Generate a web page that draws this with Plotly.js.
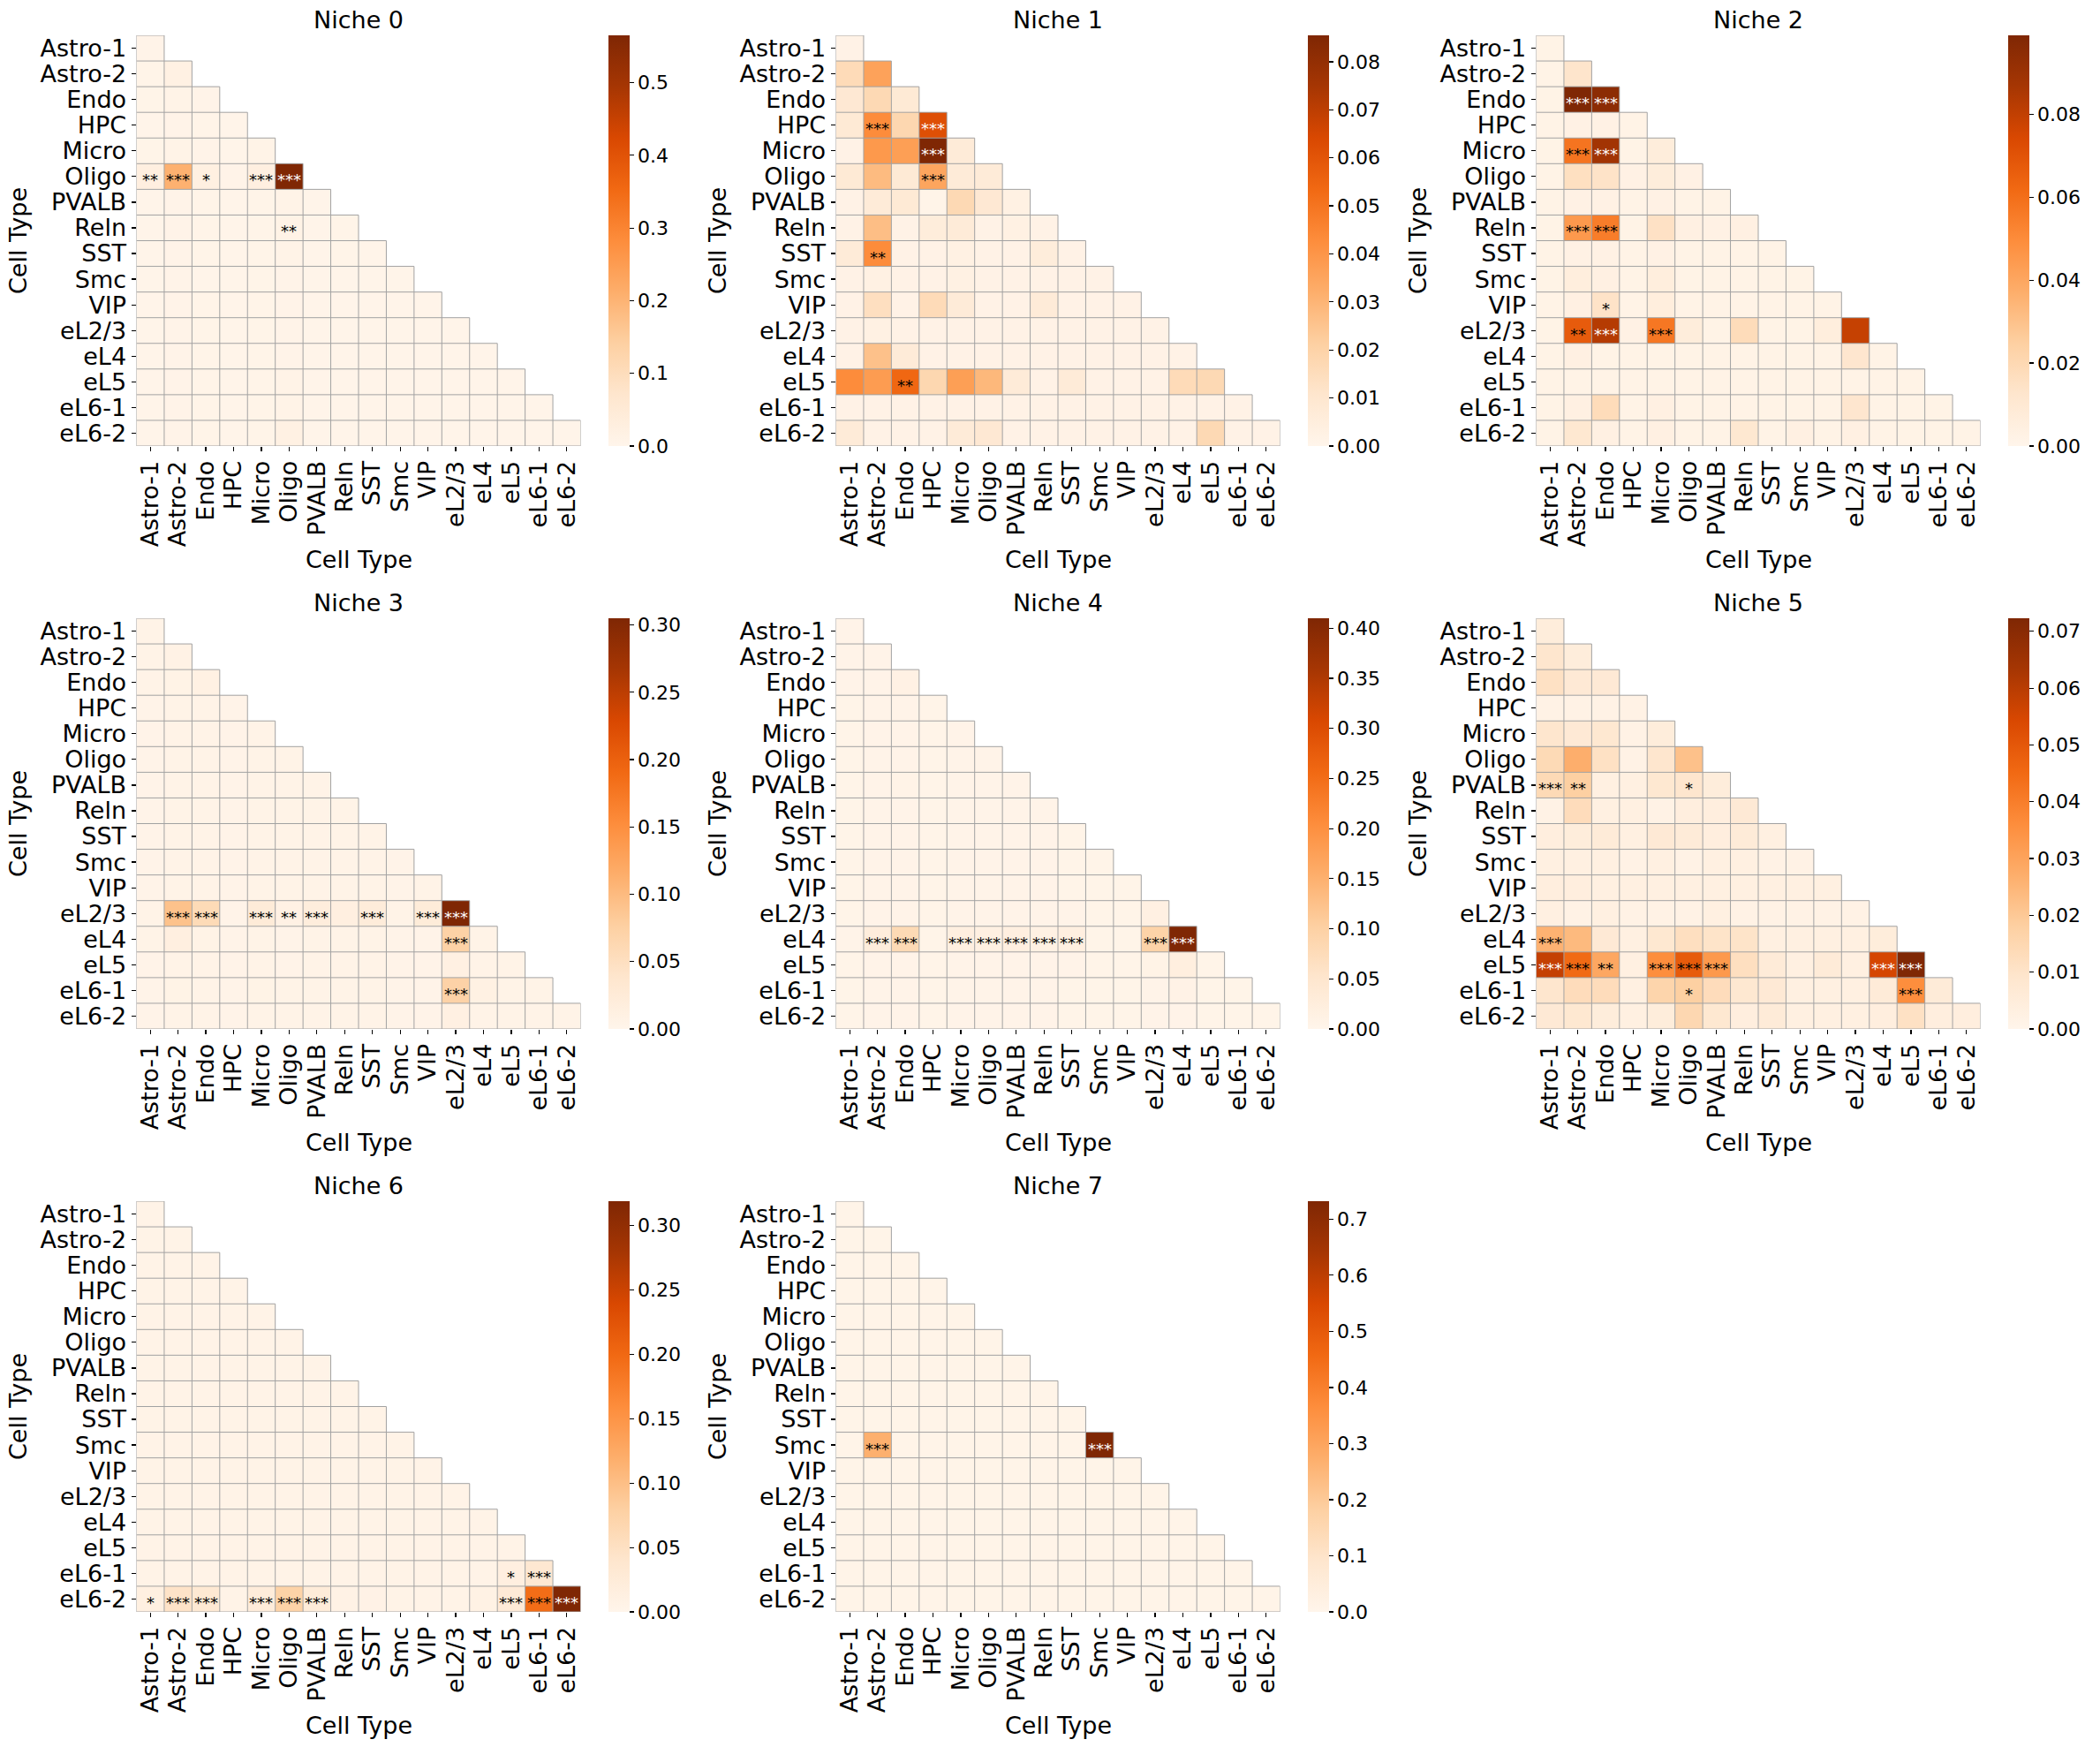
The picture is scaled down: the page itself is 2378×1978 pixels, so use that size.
<!DOCTYPE html>
<html>
<head>
<meta charset="utf-8">
<script src="https://cdn.plot.ly/plotly-3.0.1.min.js"></script>
<style>html,body{margin:0;padding:0;background:#fff;}</style>
</head>
<body>
<div id="chart" style="width:2378px;height:1978px;"></div>
<script>
// Cell types shared by every niche (rows and columns of each triangle)
const cellTypes = ["Astro-1", "Astro-2", "Endo", "HPC", "Micro", "Oligo", "PVALB", "Reln",
  "SST", "Smc", "VIP", "eL2/3", "eL4", "eL5", "eL6-1", "eL6-2"];

// Lower-triangle interaction scores, row i holds columns 0..i
const niche0 = [
  [0.008],
  [0.007, 0.020],
  [0.007, 0.009, 0.008],
  [0.006, 0.008, 0.007, 0.006],
  [0.007, 0.009, 0.008, 0.006, 0.009],
  [0.028, 0.205, 0.024, 0.008, 0.027, 0.565],
  [0.006, 0.008, 0.007, 0.006, 0.007, 0.009, 0.006],
  [0.006, 0.008, 0.007, 0.006, 0.007, 0.011, 0.006, 0.007],
  [0.006, 0.008, 0.007, 0.006, 0.007, 0.009, 0.006, 0.007, 0.006],
  [0.006, 0.008, 0.006, 0.006, 0.007, 0.008, 0.006, 0.006, 0.006, 0.006],
  [0.006, 0.008, 0.007, 0.006, 0.007, 0.008, 0.006, 0.006, 0.006, 0.006, 0.006],
  [0.006, 0.008, 0.007, 0.006, 0.007, 0.008, 0.006, 0.006, 0.006, 0.006, 0.006, 0.006],
  [0.006, 0.008, 0.007, 0.006, 0.007, 0.008, 0.006, 0.006, 0.006, 0.006, 0.006, 0.006, 0.006],
  [0.006, 0.008, 0.007, 0.006, 0.007, 0.009, 0.006, 0.006, 0.006, 0.006, 0.006, 0.006, 0.006, 0.006],
  [0.006, 0.008, 0.007, 0.006, 0.007, 0.009, 0.006, 0.006, 0.006, 0.006, 0.006, 0.006, 0.006, 0.006, 0.006],
  [0.006, 0.008, 0.007, 0.006, 0.007, 0.020, 0.006, 0.006, 0.006, 0.006, 0.006, 0.006, 0.006, 0.006, 0.006, 0.006]
];

const niche1 = [
  [0.002],
  [0.016, 0.036],
  [0.009, 0.017, 0.008],
  [0.008, 0.043, 0.018, 0.062],
  [0.002, 0.039, 0.037, 0.0855, 0.007],
  [0.008, 0.028, 0.008, 0.035, 0.007, 0.007],
  [0.002, 0.007, 0.008, 0.001, 0.017, 0.009, 0.003],
  [0.002, 0.027, 0.002, 0.006, 0.007, 0.002, 0.003, 0.002],
  [0.007, 0.043, 0.002, 0.002, 0.003, 0.002, 0.002, 0.006, 0.002],
  [0.002, 0.003, 0.002, 0.002, 0.003, 0.002, 0.002, 0.002, 0.002, 0.002],
  [0.002, 0.014, 0.002, 0.016, 0.007, 0.002, 0.002, 0.007, 0.002, 0.002, 0.002],
  [0.002, 0.003, 0.002, 0.002, 0.002, 0.002, 0.002, 0.002, 0.002, 0.002, 0.002, 0.002],
  [0.002, 0.026, 0.007, 0.002, 0.002, 0.002, 0.002, 0.002, 0.002, 0.002, 0.002, 0.002, 0.002],
  [0.043, 0.038, 0.054, 0.018, 0.037, 0.029, 0.007, 0.002, 0.007, 0.002, 0.002, 0.002, 0.016, 0.017],
  [0.002, 0.002, 0.002, 0.002, 0.002, 0.002, 0.002, 0.002, 0.002, 0.002, 0.002, 0.002, 0.002, 0.002, 0.002],
  [0.007, 0.002, 0.002, 0.002, 0.007, 0.009, 0.002, 0.002, 0.002, 0.002, 0.002, 0.002, 0.002, 0.017, 0.002, 0.002]
];

const niche2 = [
  [0.002],
  [0.002, 0.013],
  [0.002, 0.099, 0.095],
  [0.002, 0.003, 0.003, 0.002],
  [0.002, 0.058, 0.088, 0.002, 0.007],
  [0.002, 0.016, 0.014, 0.003, 0.007, 0.003],
  [0.002, 0.003, 0.003, 0.002, 0.003, 0.002, 0.002],
  [0.002, 0.045, 0.055, 0.002, 0.015, 0.004, 0.003, 0.004],
  [0.002, 0.003, 0.003, 0.002, 0.003, 0.002, 0.002, 0.002, 0.002],
  [0.002, 0.006, 0.004, 0.002, 0.006, 0.002, 0.002, 0.002, 0.002, 0.002],
  [0.002, 0.004, 0.014, 0.002, 0.006, 0.002, 0.002, 0.002, 0.002, 0.002, 0.002],
  [0.002, 0.067, 0.083, 0.003, 0.057, 0.007, 0.002, 0.018, 0.002, 0.002, 0.006, 0.079],
  [0.002, 0.004, 0.002, 0.002, 0.002, 0.002, 0.002, 0.002, 0.002, 0.002, 0.002, 0.012, 0.002],
  [0.002, 0.002, 0.002, 0.002, 0.002, 0.002, 0.002, 0.002, 0.002, 0.002, 0.002, 0.002, 0.002, 0.002],
  [0.002, 0.004, 0.018, 0.002, 0.004, 0.002, 0.002, 0.002, 0.002, 0.002, 0.002, 0.012, 0.002, 0.002, 0.002],
  [0.002, 0.011, 0.004, 0.002, 0.004, 0.002, 0.002, 0.011, 0.002, 0.004, 0.002, 0.004, 0.002, 0.002, 0.002, 0.002]
];

const niche3 = [
  [0.005],
  [0.005, 0.008],
  [0.005, 0.006, 0.010],
  [0.004, 0.005, 0.005, 0.004],
  [0.004, 0.005, 0.005, 0.004, 0.005],
  [0.004, 0.005, 0.005, 0.004, 0.005, 0.005],
  [0.004, 0.005, 0.005, 0.004, 0.005, 0.005, 0.005],
  [0.004, 0.005, 0.005, 0.004, 0.005, 0.005, 0.005, 0.005],
  [0.004, 0.005, 0.005, 0.004, 0.005, 0.005, 0.005, 0.005, 0.005],
  [0.004, 0.005, 0.005, 0.004, 0.005, 0.005, 0.005, 0.005, 0.005, 0.004],
  [0.004, 0.005, 0.005, 0.004, 0.005, 0.005, 0.005, 0.005, 0.005, 0.004, 0.005],
  [0.005, 0.092, 0.058, 0.004, 0.025, 0.009, 0.020, 0.014, 0.022, 0.005, 0.024, 0.305],
  [0.005, 0.015, 0.006, 0.004, 0.005, 0.004, 0.005, 0.005, 0.005, 0.004, 0.004, 0.073, 0.005],
  [0.004, 0.005, 0.005, 0.004, 0.005, 0.004, 0.005, 0.005, 0.005, 0.004, 0.004, 0.012, 0.005, 0.005],
  [0.004, 0.006, 0.005, 0.004, 0.006, 0.005, 0.005, 0.005, 0.005, 0.004, 0.004, 0.072, 0.010, 0.005, 0.005],
  [0.004, 0.005, 0.005, 0.004, 0.005, 0.005, 0.005, 0.005, 0.005, 0.004, 0.004, 0.012, 0.005, 0.005, 0.005, 0.005]
];

const niche4 = [
  [0.006],
  [0.006, 0.006],
  [0.006, 0.006, 0.012],
  [0.005, 0.006, 0.006, 0.005],
  [0.005, 0.006, 0.006, 0.005, 0.006],
  [0.005, 0.006, 0.006, 0.005, 0.006, 0.006],
  [0.005, 0.006, 0.007, 0.005, 0.006, 0.006, 0.006],
  [0.005, 0.006, 0.006, 0.005, 0.006, 0.006, 0.006, 0.006],
  [0.005, 0.006, 0.006, 0.005, 0.006, 0.006, 0.006, 0.006, 0.005],
  [0.005, 0.006, 0.006, 0.005, 0.006, 0.006, 0.006, 0.006, 0.005, 0.005],
  [0.005, 0.006, 0.006, 0.005, 0.006, 0.006, 0.006, 0.006, 0.005, 0.005, 0.005],
  [0.005, 0.006, 0.006, 0.005, 0.006, 0.006, 0.006, 0.006, 0.006, 0.005, 0.005, 0.016],
  [0.006, 0.026, 0.080, 0.005, 0.020, 0.016, 0.020, 0.014, 0.020, 0.005, 0.005, 0.095, 0.410],
  [0.005, 0.006, 0.006, 0.005, 0.006, 0.006, 0.006, 0.006, 0.006, 0.005, 0.005, 0.008, 0.022, 0.005],
  [0.005, 0.006, 0.006, 0.005, 0.006, 0.006, 0.006, 0.006, 0.005, 0.005, 0.005, 0.006, 0.009, 0.005, 0.005],
  [0.005, 0.006, 0.006, 0.005, 0.006, 0.006, 0.006, 0.006, 0.005, 0.005, 0.005, 0.006, 0.006, 0.005, 0.005, 0.005]
];

const niche5 = [
  [0.005],
  [0.009, 0.005],
  [0.011, 0.007, 0.007],
  [0.002, 0.002, 0.002, 0.002],
  [0.009, 0.007, 0.008, 0.002, 0.005],
  [0.014, 0.027, 0.011, 0.002, 0.009, 0.022],
  [0.014, 0.018, 0.003, 0.003, 0.008, 0.009, 0.005],
  [0.002, 0.013, 0.003, 0.003, 0.002, 0.004, 0.004, 0.007],
  [0.004, 0.005, 0.006, 0.003, 0.007, 0.006, 0.004, 0.006, 0.003],
  [0.003, 0.003, 0.003, 0.002, 0.003, 0.002, 0.003, 0.003, 0.002, 0.002],
  [0.004, 0.004, 0.003, 0.003, 0.003, 0.003, 0.003, 0.003, 0.003, 0.003, 0.003],
  [0.003, 0.002, 0.003, 0.002, 0.002, 0.002, 0.003, 0.002, 0.002, 0.002, 0.002, 0.002],
  [0.026, 0.024, 0.007, 0.003, 0.008, 0.012, 0.010, 0.010, 0.003, 0.003, 0.003, 0.003, 0.005],
  [0.058, 0.045, 0.029, 0.003, 0.036, 0.049, 0.033, 0.012, 0.006, 0.003, 0.006, 0.003, 0.055, 0.0723],
  [0.009, 0.013, 0.013, 0.003, 0.016, 0.018, 0.013, 0.008, 0.007, 0.003, 0.003, 0.003, 0.006, 0.036, 0.006],
  [0.007, 0.008, 0.005, 0.003, 0.005, 0.015, 0.008, 0.004, 0.006, 0.003, 0.003, 0.003, 0.004, 0.011, 0.004, 0.004]
];

const niche6 = [
  [0.005],
  [0.005, 0.005],
  [0.005, 0.005, 0.005],
  [0.005, 0.005, 0.005, 0.005],
  [0.005, 0.005, 0.005, 0.005, 0.005],
  [0.005, 0.005, 0.005, 0.005, 0.005, 0.005],
  [0.005, 0.005, 0.005, 0.005, 0.005, 0.005, 0.005],
  [0.005, 0.005, 0.005, 0.005, 0.005, 0.005, 0.005, 0.005],
  [0.005, 0.005, 0.005, 0.005, 0.005, 0.005, 0.005, 0.005, 0.005],
  [0.005, 0.005, 0.005, 0.005, 0.005, 0.005, 0.005, 0.005, 0.005, 0.005],
  [0.005, 0.005, 0.005, 0.005, 0.005, 0.005, 0.005, 0.005, 0.005, 0.005, 0.005],
  [0.005, 0.005, 0.005, 0.005, 0.005, 0.005, 0.005, 0.005, 0.005, 0.005, 0.005, 0.005],
  [0.005, 0.005, 0.005, 0.005, 0.005, 0.005, 0.005, 0.005, 0.005, 0.005, 0.005, 0.005, 0.005],
  [0.005, 0.005, 0.005, 0.005, 0.005, 0.005, 0.005, 0.005, 0.005, 0.005, 0.005, 0.005, 0.005, 0.005],
  [0.005, 0.006, 0.006, 0.005, 0.006, 0.006, 0.006, 0.005, 0.005, 0.005, 0.005, 0.005, 0.005, 0.015, 0.035],
  [0.014, 0.045, 0.033, 0.006, 0.024, 0.075, 0.025, 0.008, 0.007, 0.006, 0.006, 0.006, 0.009, 0.028, 0.195, 0.319]
];

const niche7 = [
  [0.008],
  [0.008, 0.008],
  [0.008, 0.008, 0.008],
  [0.008, 0.008, 0.008, 0.008],
  [0.008, 0.008, 0.008, 0.008, 0.008],
  [0.008, 0.008, 0.008, 0.008, 0.008, 0.008],
  [0.008, 0.008, 0.008, 0.008, 0.008, 0.008, 0.008],
  [0.008, 0.008, 0.008, 0.008, 0.008, 0.008, 0.008, 0.008],
  [0.008, 0.008, 0.008, 0.008, 0.008, 0.008, 0.008, 0.008, 0.008],
  [0.008, 0.270, 0.008, 0.008, 0.008, 0.008, 0.008, 0.008, 0.008, 0.732],
  [0.008, 0.008, 0.008, 0.008, 0.008, 0.008, 0.008, 0.008, 0.008, 0.008, 0.008],
  [0.008, 0.008, 0.008, 0.008, 0.008, 0.008, 0.008, 0.008, 0.008, 0.008, 0.008, 0.008],
  [0.008, 0.008, 0.008, 0.008, 0.008, 0.008, 0.008, 0.008, 0.008, 0.008, 0.008, 0.008, 0.008],
  [0.008, 0.008, 0.008, 0.008, 0.008, 0.008, 0.008, 0.008, 0.008, 0.008, 0.008, 0.008, 0.008, 0.008],
  [0.008, 0.008, 0.008, 0.008, 0.008, 0.008, 0.008, 0.008, 0.008, 0.008, 0.008, 0.008, 0.008, 0.008, 0.008],
  [0.008, 0.008, 0.008, 0.008, 0.008, 0.008, 0.008, 0.008, 0.008, 0.008, 0.008, 0.008, 0.008, 0.008, 0.008, 0.008]
];

// Significance marks: [row, column, label]
const niche0Stars = [[5, 0, "**"], [5, 1, "***"], [5, 2, "*"], [5, 4, "***"], [5, 5, "***"], [7, 5, "**"]];
const niche1Stars = [[3, 1, "***"], [3, 3, "***"], [4, 3, "***"], [5, 3, "***"], [8, 1, "**"], [13, 2, "**"]];
const niche2Stars = [[2, 1, "***"], [2, 2, "***"], [4, 1, "***"], [4, 2, "***"], [7, 1, "***"], [7, 2, "***"],
  [10, 2, "*"], [11, 1, "**"], [11, 2, "***"], [11, 4, "***"]];
const niche3Stars = [[11, 1, "***"], [11, 2, "***"], [11, 4, "***"], [11, 5, "**"], [11, 6, "***"], [11, 8, "***"],
  [11, 10, "***"], [11, 11, "***"], [12, 11, "***"], [14, 11, "***"]];
const niche4Stars = [[12, 1, "***"], [12, 2, "***"], [12, 4, "***"], [12, 5, "***"], [12, 6, "***"], [12, 7, "***"],
  [12, 8, "***"], [12, 11, "***"], [12, 12, "***"]];
const niche5Stars = [[6, 0, "***"], [6, 1, "**"], [6, 5, "*"], [12, 0, "***"], [13, 0, "***"], [13, 1, "***"],
  [13, 2, "**"], [13, 4, "***"], [13, 5, "***"], [13, 6, "***"], [13, 12, "***"], [13, 13, "***"],
  [14, 5, "*"], [14, 13, "***"]];
const niche6Stars = [[14, 13, "*"], [14, 14, "***"], [15, 0, "*"], [15, 1, "***"], [15, 2, "***"], [15, 4, "***"],
  [15, 5, "***"], [15, 6, "***"], [15, 13, "***"], [15, 14, "***"], [15, 15, "***"]];
const niche7Stars = [[9, 1, "***"], [9, 9, "***"]];

// Colour-bar tick spacing and label format for each niche
const cbStep = [0.1, 0.01, 0.02, 0.05, 0.05, 0.01, 0.05, 0.1];
const cbFormat = [".1f", ".2f", ".2f", ".2f", ".2f", ".2f", ".2f", ".1f"];

const niches = [niche0, niche1, niche2, niche3, niche4, niche5, niche6, niche7];
const nicheStars = [niche0Stars, niche1Stars, niche2Stars, niche3Stars, niche4Stars, niche5Stars, niche6Stars, niche7Stars];

// ---- figure geometry (pixels) ----
const W = 2378, H = 1978;
const colLeft = [154.5, 946.5, 1739.5];
const rowTop = [40, 700, 1360];
const panelW = 503, panelH = 465;
const cbGap = 31, cbThick = 24;
const FONT = "DejaVu Sans, sans-serif";

const oranges = [
  [0, "#fff5eb"], [0.125, "#fee6ce"], [0.25, "#fdd0a2"], [0.375, "#fdae6b"], [0.5, "#fd8d3c"],
  [0.625, "#f16913"], [0.75, "#d94801"], [0.875, "#a63603"], [1, "#7f2704"]
];

const n = cellTypes.length;
const idx = cellTypes.map((_, i) => i);

// Outline of every cell of the lower triangle, in axis units
function triangleGrid() {
  const xs = [], ys = [];
  for (let k = 0; k <= n; k++) {
    xs.push(-0.5, Math.min(k, n - 1) + 0.5, null);
    ys.push(k - 0.5, k - 0.5, null);
  }
  for (let j = 0; j <= n; j++) {
    xs.push(j - 0.5, j - 0.5, null);
    ys.push(Math.max(j - 1, 0) - 0.5, n - 0.5, null);
  }
  return { xs, ys };
}
const grid = triangleGrid();

const px = v => v / W;
const py = v => 1 - v / H;

const traces = [];
const annotations = [];
const layout = {
  width: W, height: H,
  margin: { l: 0, r: 0, t: 0, b: 0, pad: 0 },
  paper_bgcolor: "#ffffff", plot_bgcolor: "rgba(0,0,0,0)",
  font: { family: FONT, color: "#000000" },
  showlegend: false,
  annotations: annotations
};

niches.forEach((rows, k) => {
  const suffix = k === 0 ? "" : String(k + 1);
  const c = k % 3, r = Math.floor(k / 3);
  const left = colLeft[c], top = rowTop[r];
  const z = idx.map(i => idx.map(j => (j <= i ? rows[i][j] : null)));
  const zmax = Math.max(...rows.flat());

  traces.push({
    type: "heatmap", x: idx, y: idx, z: z,
    xaxis: "x" + suffix, yaxis: "y" + suffix,
    colorscale: oranges, zmin: 0, zmax: zmax, zsmooth: false,
    hoverinfo: "skip",
    colorbar: {
      x: px(left + panelW + cbGap), xanchor: "left",
      y: py(top + panelH / 2), yanchor: "middle",
      len: panelH / H, lenmode: "fraction",
      thickness: cbThick, thicknessmode: "pixels",
      xpad: 0, ypad: 0, outlinewidth: 0,
      ticks: "outside", ticklen: 5, tickwidth: 1.2, tickcolor: "#000",
      tickmode: "linear", tick0: 0, dtick: cbStep[k], tickformat: cbFormat[k],
      tickfont: { family: FONT, size: 22, color: "#000" }
    }
  });

  traces.push({
    type: "scatter", mode: "lines", x: grid.xs, y: grid.ys,
    xaxis: "x" + suffix, yaxis: "y" + suffix,
    line: { color: "#a2a2a2", width: 1 },
    hoverinfo: "skip", cliponaxis: false, showlegend: false
  });

  const axisCommon = {
    tickmode: "array", tickvals: idx, ticktext: cellTypes,
    ticks: "outside", ticklen: 5, tickwidth: 1.2, tickcolor: "#000",
    showgrid: false, zeroline: false, showline: false, fixedrange: true,
    tickfont: { family: FONT, size: 27, color: "#000" }
  };
  layout["xaxis" + suffix] = Object.assign({}, axisCommon, {
    domain: [px(left), px(left + panelW)], range: [-0.5, n - 0.5],
    anchor: "y" + suffix, tickangle: -90
  });
  layout["yaxis" + suffix] = Object.assign({}, axisCommon, {
    domain: [py(top + panelH), py(top)], range: [n - 0.5, -0.5],
    anchor: "x" + suffix
  });

  // panel title and axis titles
  annotations.push({
    xref: "paper", yref: "paper", x: px(left + panelW / 2), y: py(top - 18),
    xanchor: "center", yanchor: "middle", showarrow: false,
    text: "Niche " + k, font: { family: FONT, size: 27, color: "#000" }
  });
  annotations.push({
    xref: "paper", yref: "paper", x: px(left + panelW / 2), y: py(top + panelH + 128),
    xanchor: "center", yanchor: "middle", showarrow: false,
    text: "Cell Type", font: { family: FONT, size: 27, color: "#000" }
  });
  annotations.push({
    xref: "paper", yref: "paper", x: px(left - 134), y: py(top + panelH / 2),
    xanchor: "center", yanchor: "middle", showarrow: false, textangle: -90,
    text: "Cell Type", font: { family: FONT, size: 27, color: "#000" }
  });

  // significance marks on their cells
  nicheStars[k].forEach(([row, col, label]) => {
    const v = rows[row][col];
    annotations.push({
      xref: "x" + suffix, yref: "y" + suffix, x: col, y: row,
      xanchor: "center", yanchor: "middle", showarrow: false, yshift: -4,
      text: label,
      font: { family: FONT, size: 18, color: v > 0.7 * zmax ? "#ffffff" : "#000000" }
    });
  });
});

Plotly.newPlot("chart", traces, layout, { staticPlot: true, displayModeBar: false });
</script>
</body>
</html>
